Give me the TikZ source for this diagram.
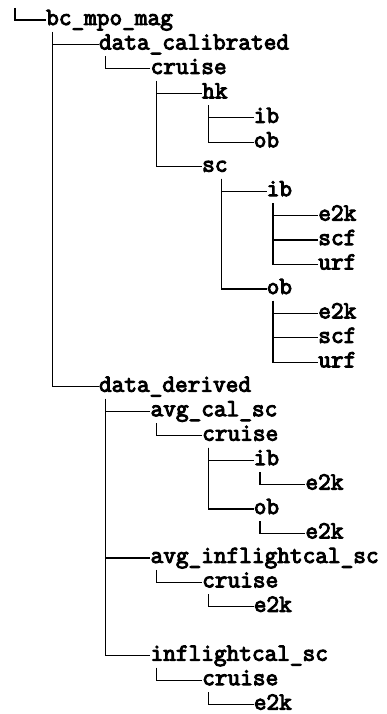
\documentclass[tikz,border=0pt]{standalone}
\usepackage{fontspec}
\newfontfamily\treefont[AutoFakeBold=4]{Latin Modern Mono}
\usetikzlibrary{positioning}
\tikzset{dir/.style={font=\treefont\bfseries\fontsize{24.6}{26}\selectfont,anchor=west,inner sep=0pt,text height=10pt,text depth=0pt}}

\begin{document}
\begin{tikzpicture}[x=1pt,y=-1pt]
\useasboundingbox[fill=white] (0,0) rectangle (387,714);
\coordinate (top) at (15,8);
\node[dir] (root) at (46,20) {bc\_mpo\_mag};
\node[dir] (cal) at (98.8,44.5) {data\_calibrated};
\node[dir] (cr1) at (150.4,68.9) {cruise};
\node[dir] (hk) at (202,93.35) {hk};
\node[dir] (hkib) at (253.6,117.8) {ib};
\node[dir] (hkob) at (253.6,142.25) {ob};
\node[dir] (sc) at (202,166.7) {sc};
\node[dir] (scib) at (266.5,191.15) {ib};
\node[dir] (ibe2k) at (318.1,215.6) {e2k};
\node[dir] (ibscf) at (318.1,240.05) {scf};
\node[dir] (iburf) at (318.1,264.5) {urf};
\node[dir] (scob) at (266.5,288.95) {ob};
\node[dir] (obe2k) at (318.1,313.4) {e2k};
\node[dir] (obscf) at (318.1,337.85) {scf};
\node[dir] (oburf) at (318.1,362.3) {urf};
\node[dir] (der) at (98.8,386.75) {data\_derived};
\node[dir] (avg) at (150.4,411.2) {avg\_cal\_sc};
\node[dir] (cr2) at (202,435.65) {cruise};
\node[dir] (ib2) at (253.6,460.1) {ib};
\node[dir] (e2k1) at (305.2,484.55) {e2k};
\node[dir] (ob2) at (253.6,509) {ob};
\node[dir] (e2k2) at (305.2,533.45) {e2k};
\node[dir] (avgin) at (150.4,557.9) {avg\_inflightcal\_sc};
\node[dir] (cr3) at (202,582.35) {cruise};
\node[dir] (e2k3) at (253.6,606.8) {e2k};
\node[dir] (infl) at (150.4,655.7) {inflightcal\_sc};
\node[dir] (cr4) at (202,680.15) {cruise};
\node[dir] (e2k4) at (253.6,704.6) {e2k};
\begin{scope}[line width=1.2pt]
\draw (top) |- (root.west);
\draw (root.west) ++(6.45,12) |- (cal.west);
\draw (root.west) ++(6.45,12) |- (der.west);
\draw (cal.west) ++(6.45,12) |- (cr1.west);
\draw (cr1.west) ++(6.45,12) |- (hk.west);
\draw (cr1.west) ++(6.45,12) |- (sc.west);
\draw (hk.west) ++(6.45,12) |- (hkib.west);
\draw (hk.west) ++(6.45,12) |- (hkob.west);
\draw (sc.west) ++(19.35,12) |- (scib.west);
\draw (sc.west) ++(19.35,12) |- (scob.west);
\draw (scib.west) ++(6.45,12) |- (ibe2k.west);
\draw (scib.west) ++(6.45,12) |- (ibscf.west);
\draw (scib.west) ++(6.45,12) |- (iburf.west);
\draw (scob.west) ++(6.45,12) |- (obe2k.west);
\draw (scob.west) ++(6.45,12) |- (obscf.west);
\draw (scob.west) ++(6.45,12) |- (oburf.west);
\draw (der.west) ++(6.45,12) |- (avg.west);
\draw (der.west) ++(6.45,12) |- (avgin.west);
\draw (der.west) ++(6.45,12) |- (infl.west);
\draw (avg.west) ++(6.45,12) |- (cr2.west);
\draw (cr2.west) ++(6.45,12) |- (ib2.west);
\draw (cr2.west) ++(6.45,12) |- (ob2.west);
\draw (ib2.west) ++(6.45,12) |- (e2k1.west);
\draw (ob2.west) ++(6.45,12) |- (e2k2.west);
\draw (avgin.west) ++(6.45,12) |- (cr3.west);
\draw (cr3.west) ++(6.45,12) |- (e2k3.west);
\draw (infl.west) ++(6.45,12) |- (cr4.west);
\draw (cr4.west) ++(6.45,12) |- (e2k4.west);
\end{scope}
\end{tikzpicture}
\end{document}
